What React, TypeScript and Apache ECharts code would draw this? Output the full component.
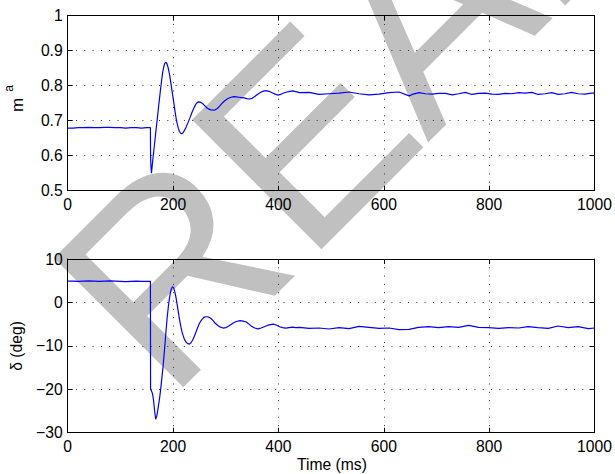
import React, { useEffect, useRef } from "react";
import * as echarts from "echarts";

// ---- data ----
const maTime = [
  0, 10, 20, 30, 40, 50, 60, 70, 80, 90, 100, 110, 120, 130, 140, 150, 157, 157.3, 158, 159,
  160, 162, 164, 166, 168, 170, 172, 174, 176, 178, 180, 182, 184, 186, 188, 190, 192, 194, 196, 198,
  200, 202, 204, 206, 208, 210, 212, 214, 216, 218, 220, 224, 228, 232, 236, 240, 244, 248, 252, 256,
  260, 264, 268, 272, 276, 280, 284, 288, 292, 296, 300, 305, 310, 315, 320, 325, 330, 335, 340, 345,
  350, 355, 360, 365, 370, 376, 382, 388, 394, 399, 404, 410, 416, 422, 427, 433, 440, 458, 477, 496,
  515, 534, 553, 572, 591, 610, 629, 648, 654, 667, 679, 692, 704, 717, 730, 742, 755, 767, 780, 793,
  805, 818, 830, 843, 856, 868, 881, 893, 906, 919, 931, 944, 956, 969, 982, 994, 1000,
];
const maValues = [
  0.679, 0.679, 0.68, 0.68, 0.681, 0.68, 0.68, 0.681, 0.681, 0.68, 0.68, 0.679, 0.68, 0.68, 0.679, 0.68, 0.68, 0.6, 0.57, 0.55,
  0.565, 0.595, 0.622, 0.65, 0.678, 0.705, 0.733, 0.76, 0.787, 0.812, 0.835, 0.852, 0.863, 0.867, 0.864, 0.855, 0.842, 0.826, 0.806, 0.785,
  0.765, 0.745, 0.724, 0.705, 0.69, 0.678, 0.67, 0.665, 0.663, 0.664, 0.668, 0.679, 0.693, 0.708, 0.724, 0.738, 0.749, 0.754, 0.753, 0.749,
  0.743, 0.737, 0.733, 0.731, 0.73, 0.731, 0.735, 0.741, 0.748, 0.754, 0.759, 0.764, 0.767, 0.769, 0.768, 0.767, 0.766, 0.765, 0.763, 0.762,
  0.764, 0.769, 0.775, 0.78, 0.784, 0.786, 0.784, 0.78, 0.776, 0.773, 0.775, 0.779, 0.782, 0.784, 0.785, 0.783, 0.78, 0.781, 0.775, 0.777,
  0.779, 0.782, 0.777, 0.774, 0.776, 0.78, 0.782, 0.771, 0.775, 0.78, 0.777, 0.776, 0.778, 0.778, 0.774, 0.777, 0.781, 0.775, 0.778, 0.779,
  0.776, 0.775, 0.778, 0.777, 0.78, 0.779, 0.781, 0.775, 0.777, 0.78, 0.775, 0.777, 0.781, 0.777, 0.776, 0.779, 0.779,
];

const deltaTime = [
  0, 10, 20, 30, 40, 50, 60, 70, 80, 90, 100, 110, 120, 130, 140, 150, 157, 157.3, 159, 161,
  163, 165, 167, 169, 171, 173, 175, 177, 179, 181, 183, 185, 187, 189, 191, 193, 195, 197, 199, 201,
  203, 205, 207, 209, 211, 213, 215, 217, 219, 221, 223, 225, 228, 231, 234, 237, 240, 243, 246, 249,
  252, 255, 258, 261, 264, 268, 272, 276, 280, 285, 290, 295, 300, 305, 310, 315, 320, 327, 333, 339,
  344, 349, 355, 361, 367, 373, 379, 385, 390, 396, 402, 408, 414, 420, 427, 433, 440, 458, 477, 496,
  515, 534, 553, 572, 591, 610, 629, 648, 666, 685, 704, 723, 742, 761, 780, 799, 818, 837, 856, 874,
  893, 912, 931, 950, 969, 988, 1000,
];
const deltaValues = [
  4.9, 4.9, 4.85, 4.9, 4.95, 4.9, 4.85, 4.9, 4.95, 4.9, 4.85, 4.8, 4.85, 4.9, 4.85, 4.85, 4.85, -19.9, -20.4, -21.0,
  -22.6, -25.0, -26.9, -26.2, -24.8, -23.2, -21.5, -19.4, -17.1, -14.8, -12.0, -9.0, -6.0, -3.3, -1.0, 0.9, 2.3, 3.2, 3.6, 3.4,
  2.6, 1.5, 0.1, -1.5, -3.0, -4.4, -5.7, -6.8, -7.6, -8.3, -8.8, -9.2, -9.5, -9.6, -9.3, -8.7, -7.9, -7.0, -6.0, -5.1,
  -4.4, -3.9, -3.5, -3.3, -3.3, -3.4, -3.7, -4.2, -4.8, -5.3, -5.7, -5.9, -5.8, -5.5, -5.1, -4.7, -4.4, -4.2, -4.3, -4.5,
  -5.0, -5.5, -5.9, -6.1, -5.9, -5.6, -5.3, -5.1, -5.0, -5.2, -5.6, -5.8, -5.9, -5.8, -5.7, -5.8, -5.74, -5.97, -5.89, -6.12,
  -5.81, -6.05, -5.51, -5.74, -5.97, -5.89, -6.28, -6.2, -5.74, -5.59, -5.81, -5.59, -5.74, -5.28, -5.74, -5.81, -5.97, -5.81, -5.89, -5.59,
  -5.81, -5.97, -5.43, -5.81, -5.59, -6.05, -5.89,
];

const timeAxis = { min: 0, max: 1000, step: 200 };
const maAxis = { min: 0.5, max: 1, step: 0.1 };
const deltaAxis = { min: -30, max: 10, step: 10 };

const xLabel = "Time (ms)";
const maLabelMain = "m";
const maLabelSub = "a";
const deltaLabel = "δ (deg)";
const watermarkLetters = ["R", "E", "A", "L"];

const FONT = "'Liberation Sans', Arial, Helvetica, sans-serif";
const TICK_FONT = 15.7;

// watermark layout: letter centres along the rotated baseline (u) and across it (v)
const WM_U = [-70, 118, 290, 448];
const WM_V = 311;
const WM_SIZE = 266;

const dotted = { type: [1, 7.3] as any, color: "#333", width: 1 };

function xAxisDef(gridIndex: number, position: "bottom" | "top") {
  const main = position === "bottom";
  return {
    type: "value",
    gridIndex,
    position,
    min: timeAxis.min,
    max: timeAxis.max,
    interval: timeAxis.step,
    z: 3,
    axisLine: { show: true, onZero: false, lineStyle: { color: "#000", width: 1 } },
    axisTick: { show: true, inside: true, length: 5, lineStyle: { color: "#000", width: 1 } },
    axisLabel: {
      show: main,
      margin: 6,
      color: "#000",
      fontSize: TICK_FONT,
      fontFamily: FONT,
      formatter: (v: number) => String(Math.round(v)),
    },
    splitLine: { show: main, lineStyle: dotted },
  };
}

function yAxisDef(
  gridIndex: number,
  position: "left" | "right",
  r: { min: number; max: number; step: number },
  fmt: (v: number) => string
) {
  const main = position === "left";
  return {
    type: "value",
    gridIndex,
    position,
    min: r.min,
    max: r.max,
    interval: r.step,
    z: 3,
    axisLine: { show: true, onZero: false, lineStyle: { color: "#000", width: 1 } },
    axisTick: { show: true, inside: true, length: 5, lineStyle: { color: "#000", width: 1 } },
    axisLabel: {
      show: main,
      margin: 5,
      color: "#000",
      fontSize: TICK_FONT,
      fontFamily: FONT,
      formatter: fmt,
    },
    splitLine: { show: main, lineStyle: dotted },
  };
}

export default function App() {
  const ref = useRef<HTMLDivElement>(null);

  useEffect(() => {
    if (!ref.current) return;
    const chart = echarts.init(ref.current, undefined, { renderer: "svg" });

    const maFmt = (v: number) => String(+v.toFixed(1));
    const deltaFmt = (v: number) => String(Math.round(v)).replace("-", "\u2212");

    const k = Math.SQRT1_2;
    const wm = watermarkLetters.map((ch, i) => ({
      type: "text",
      x: k * (WM_U[i] + WM_V),
      y: k * (WM_V - WM_U[i]),
      rotation: Math.PI / 4,
      z: 1,
      silent: true,
      style: {
        text: ch,
        fill: "#c0c0c0",
        font: `${WM_SIZE}px ${FONT}`,
        textAlign: "center",
        textVerticalAlign: "middle",
        verticalAlign: "middle",
      },
    }));

    const option: any = {
      animation: false,
      backgroundColor: "#fff",
      grid: [
        { left: 67.7, top: 15.7, width: 528.5, height: 175, containLabel: false },
        { left: 67.7, top: 259, width: 528.5, height: 173.7, containLabel: false },
      ],
      xAxis: [
        xAxisDef(0, "bottom"),
        xAxisDef(0, "top"),
        xAxisDef(1, "bottom"),
        xAxisDef(1, "top"),
      ],
      yAxis: [
        yAxisDef(0, "left", maAxis, maFmt),
        yAxisDef(0, "right", maAxis, maFmt),
        yAxisDef(1, "left", deltaAxis, deltaFmt),
        yAxisDef(1, "right", deltaAxis, deltaFmt),
      ],
      series: [
        {
          type: "line",
          name: "m_a",
          xAxisIndex: 0,
          yAxisIndex: 0,
          data: maTime.map((t, i) => [t, maValues[i]]),
          showSymbol: false,
          symbol: "none",
          lineStyle: { color: "#0000ff", width: 1.2 },
          z: 4,
          clip: true,
        },
        {
          type: "line",
          name: "delta",
          xAxisIndex: 2,
          yAxisIndex: 2,
          data: deltaTime.map((t, i) => [t, deltaValues[i]]),
          showSymbol: false,
          symbol: "none",
          lineStyle: { color: "#0000ff", width: 1.2 },
          z: 4,
          clip: true,
        },
      ],
      graphic: [
        ...wm,
        {
          type: "text",
          x: 17.4,
          y: 105,
          rotation: Math.PI / 2,
          z: 5,
          style: {
            text: maLabelMain,
            fill: "#000",
            font: `17px ${FONT}`,
            textAlign: "center",
            textVerticalAlign: "middle",
            verticalAlign: "middle",
          },
        },
        {
          type: "text",
          x: 8.8,
          y: 88.5,
          rotation: Math.PI / 2,
          z: 5,
          style: {
            text: maLabelSub,
            fill: "#000",
            font: `12px ${FONT}`,
            textAlign: "center",
            textVerticalAlign: "middle",
            verticalAlign: "middle",
          },
        },
        {
          type: "text",
          x: 16.1,
          y: 346,
          rotation: Math.PI / 2,
          z: 5,
          style: {
            text: deltaLabel,
            fill: "#000",
            font: `${TICK_FONT}px ${FONT}`,
            textAlign: "center",
            textVerticalAlign: "middle",
            verticalAlign: "middle",
          },
        },
        {
          type: "text",
          x: 331.9,
          y: 464.8,
          z: 5,
          style: {
            text: xLabel,
            fill: "#000",
            font: `${TICK_FONT}px ${FONT}`,
            textAlign: "center",
            textVerticalAlign: "middle",
            verticalAlign: "middle",
          },
        },
      ],
    };

    chart.setOption(option);
    return () => chart.dispose();
  }, []);

  return (
    <div
      ref={ref}
      style={{ position: "absolute", left: 0, top: 0, width: 615, height: 474 }}
    />
  );
}
